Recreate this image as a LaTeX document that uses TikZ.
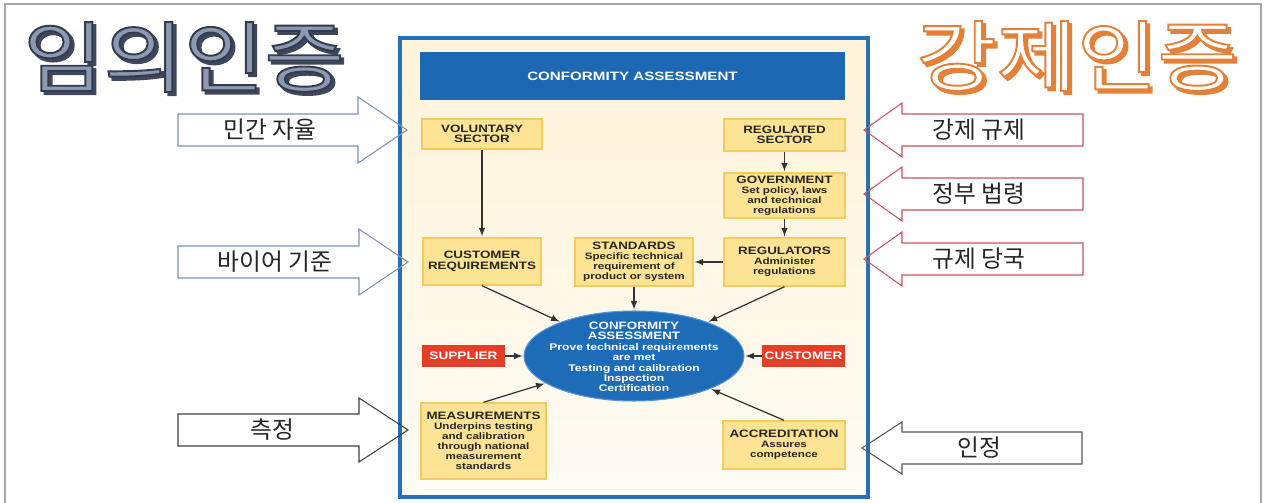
\documentclass[tikz,border=0pt]{standalone}
\usepackage{fontspec}
\usepackage{tikz}
\usetikzlibrary{arrows,shapes,positioning}
\newfontfamily\engfont[FakeStretch=1.25]{Liberation Sans}
\newfontfamily\korfont{Noto Sans CJK KR}
\newfontfamily\titlefont[FakeStretch=1.13,FakeBold=2.5]{Noto Sans CJK KR}
\definecolor{panelblue}{RGB}{38,112,182}
\definecolor{bannerblue}{RGB}{28,104,178}
\definecolor{ovalblue}{RGB}{30,108,184}
\definecolor{ovaledge}{RGB}{86,150,214}
\definecolor{boxfill}{RGB}{253,228,148}
\definecolor{boxedge}{RGB}{246,202,92}
\definecolor{partyred}{RGB}{228,62,40}
\definecolor{creamtop}{RGB}{255,243,216}
\definecolor{creambot}{RGB}{255,252,245}
\definecolor{volblue}{RGB}{122,150,186}
\definecolor{regred}{RGB}{200,84,96}
\newcommand{\hdln}{\fontsize{6.1}{6.6}\selectfont}
% fill colour, then stroke colour of the outlined title glyphs
\newcommand{\ttlpaint}[3]{\special{pdf:bcolor [#1] [#2]}#3\special{pdf:ecolor}}
\tikzset{
    stage/.style={
    rectangle,draw=boxedge,fill=boxfill,line width=0.8pt,inner sep=1pt,align=center,
    text=black!85,font=\engfont\bfseries\fontsize{5.3}{5.7}\selectfont
    },
    party/.style={
    rectangle,fill=partyred,text=white,inner sep=0pt,minimum width=1.66cm,minimum height=0.43cm,
    font=\engfont\bfseries\fontsize{6.2}{6.8}\selectfont
    },
    flow/.style={
    ->,>=latex,draw=black!80,line width=0.7pt,shorten >=0.5pt
    },
    hint/.style={
    font=\korfont\fontsize{13.5}{15}\selectfont,text=black!85,inner sep=0pt
    },
    bigtitle/.style={
    font=\titlefont\fontsize{44}{50}\selectfont,inner sep=0pt
    },
}
\begin{document}
\begin{tikzpicture}[x=0.02cm,y=-0.02cm]
  \useasboundingbox[fill=white] (0,0) rectangle (1265,503);
  \draw[black!35,line width=0.6pt] (5,503) -- (5,4) -- (1261,4) -- (1261,503);

  % titles
  \node[bigtitle,shift={(1.8pt,-1.8pt)}] (vs) at (184,57) {\ttlpaint{0.25 0.28 0.36}{0.25 0.28 0.36}{임의인증}};
  \node[bigtitle] (vt) at (184,57) {\ttlpaint{0.55 0.6 0.69}{0.2 0.235 0.31}{임의인증}};
  \node[bigtitle,shift={(1.8pt,-1.8pt)}] (rs) at (1077,56) {\ttlpaint{0.9 0.5 0.22}{0.9 0.5 0.22}{강제인증}};
  \node[bigtitle] (rt) at (1077,56) {\ttlpaint{1 1 1}{0.9 0.5 0.22}{강제인증}};

  % panel
  \shade[top color=creamtop,bottom color=creambot] (400,38) rectangle (868,497);
  \draw[panelblue,line width=1.8pt] (400,38) rectangle (868,497);
  \node[fill=bannerblue,text=white,minimum width=8.5cm,minimum height=0.96cm,
        font=\engfont\bfseries\fontsize{6.9}{7.5}\selectfont] (banner) at (632.5,76) {CONFORMITY ASSESSMENT};

  \node[stage,minimum width=2.4cm,minimum height=0.6cm] (vol) at (482,134) {{\hdln VOLUNTARY}\\{\hdln SECTOR}};
  \node[stage,minimum width=2.42cm,minimum height=0.64cm] (reg) at (784.5,135) {{\hdln REGULATED}\\{\hdln SECTOR}};
  \node[stage,minimum width=2.42cm,minimum height=0.9cm] (gov) at (784.5,195.5) {{\hdln GOVERNMENT}\\Set policy, laws\\and technical\\regulations};
  \node[stage,minimum width=2.36cm,minimum height=0.94cm] (creq) at (482,261.5) {{\hdln CUSTOMER}\\[0.6pt]{\hdln REQUIREMENTS}};
  \node[stage,minimum width=2.36cm,minimum height=0.96cm] (std) at (634,262) {{\hdln STANDARDS}\\Specific technical\\requirement of\\product or system};
  \node[stage,minimum width=2.42cm,minimum height=0.96cm] (rgl) at (784.5,262) {{\hdln REGULATORS}\\Administer\\regulations};
  \node[stage,minimum width=2.5cm,minimum height=1.52cm] (meas) at (483.5,441) {{\hdln MEASUREMENTS}\\Underpins testing\\and calibration\\through national\\measurement\\standards};
  \node[stage,minimum width=2.44cm,minimum height=0.96cm] (accr) at (784,445) {{\hdln ACCREDITATION}\\Assures\\competence};

  \node[party] (sup) at (463.5,356) {SUPPLIER};
  \node[party] (cus) at (803.5,356) {CUSTOMER};

  \node[ellipse,fill=ovalblue,draw=ovaledge,line width=0.6pt,minimum width=4.4cm,minimum height=1.8cm,inner sep=0pt] (oval) at (634,356) {};
  \node[align=center,text=white,inner sep=0pt,font=\engfont\bfseries\fontsize{5.5}{5.9}\selectfont] (ovt) at (634,357)
    {{\hdln CONFORMITY}\\{\hdln ASSESSMENT}\\Prove technical requirements\\are met\\Testing and calibration\\Inspection\\Certification};

  \draw[flow] (vol) -- (creq);
  \draw[flow] (reg) -- (gov);
  \draw[flow] (gov) -- (rgl);
  \draw[flow] (rgl) -- (std);
  \draw[flow] (std) -- (oval);
  \draw[flow] (creq.south) -- (oval);
  \draw[flow] (rgl.south) -- (oval);
  \draw[flow] (sup) -- (oval);
  \draw[flow] (cus) -- (oval);
  \draw[flow] (meas.north) -- (oval);
  \draw[flow] (accr.north) -- (oval);

  % side arrows
  \draw[volblue,line width=0.6pt] (178,114) -- (358,114) -- (358,97) -- (407,130) -- (358,163) -- (358,146) -- (178,146) -- cycle;
  \node[hint] (h1) at (270,130) {민간 자율};
  \draw[volblue,line width=0.6pt] (178,246) -- (359,246) -- (359,229) -- (408,262) -- (359,295) -- (359,278) -- (178,278) -- cycle;
  \node[hint] (h2) at (275,262) {바이어 기준};
  \draw[black!75,line width=0.6pt] (178,414) -- (359,414) -- (359,398) -- (408,430) -- (359,462) -- (359,446) -- (178,446) -- cycle;
  \node[hint] (h3) at (272,430) {측정};

  \draw[regred,line width=0.6pt] (1083,114) -- (902,114) -- (902,103) -- (864,130) -- (902,157) -- (902,146) -- (1083,146) -- cycle;
  \node[hint] (h4) at (979,130) {강제 규제};
  \draw[regred,line width=0.6pt] (1083,178) -- (902,178) -- (902,167) -- (864,194) -- (902,221) -- (902,210) -- (1083,210) -- cycle;
  \node[hint] (h5) at (979,194) {정부 법령};
  \draw[regred,line width=0.6pt] (1083,243) -- (902,243) -- (902,232) -- (864,259) -- (902,286) -- (902,275) -- (1083,275) -- cycle;
  \node[hint] (h6) at (979,259) {규제 당국};
  \draw[black!65,line width=0.6pt] (1082,432) -- (902,432) -- (902,422) -- (862,448) -- (902,474) -- (902,464) -- (1082,464) -- cycle;
  \node[hint] (h7) at (979,448) {인정};
\end{tikzpicture}
\end{document}
